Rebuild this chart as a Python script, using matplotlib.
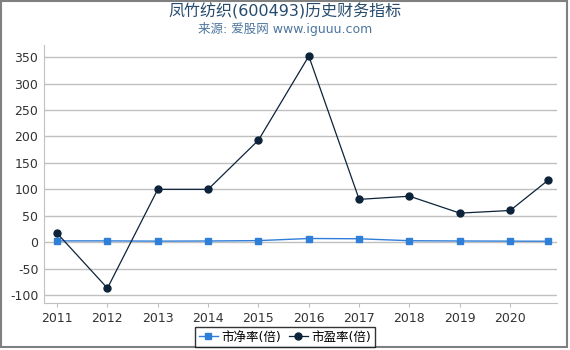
import matplotlib.pyplot as plt
from matplotlib.patches import Rectangle

plt.rcParams['font.family'] = ['DejaVu Sans', 'Noto Sans CJK SC']
plt.rcParams['axes.unicode_minus'] = False

years = [2011, 2012, 2013, 2014, 2015, 2016, 2017, 2018, 2019, 2020, 2020.75]
pb = [2.5, 2.5, 2.0, 2.3, 3.0, 7.0, 6.5, 2.8, 2.3, 2.0, 1.8]
pe = [17, -87, 100, 100, 193, 352, 81, 87, 55, 60, 117]
xticks = [2011, 2012, 2013, 2014, 2015, 2016, 2017, 2018, 2019, 2020]
yticks = [-100, -50, 0, 50, 100, 150, 200, 250, 300, 350]

fig = plt.figure(figsize=(5.7, 3.5), dpi=100)
ax = fig.add_axes([44 / 570, 1 - 303 / 350, (557 - 44) / 570, (303 - 45) / 350])

ax.plot(years, pb, color='#2f7ed8', marker='s', markersize=5, linewidth=1, label='市净率(倍)')
ax.plot(years, pe, color='#0d233a', marker='o', markersize=5, linewidth=0.9, label='市盈率(倍)')

ax.set_xlim(2010.74, 2020.93)
ax.set_ylim(-115, 373)
ax.set_xticks(xticks)
ax.set_xticklabels([str(y) for y in xticks])
ax.set_yticks(yticks)
ax.grid(axis='y', color='#c0c0c0', linewidth=1)
ax.set_axisbelow(True)
for s in ['top', 'right']:
    ax.spines[s].set_visible(False)
for s in ['left', 'bottom']:
    ax.spines[s].set_color('#c0c0c0')
ax.tick_params(axis='y', length=0, labelsize=9, colors='#333333', pad=4)
ax.tick_params(axis='x', length=3, color='#c0c0c0', labelsize=9, colors='#333333')

fig.text(0.5, 0.968, '凤竹纺织(600493)历史财务指标', ha='center', va='center', fontsize=11.5, color='#274b6d')
fig.text(0.5, 0.918, '来源: 爱股网 www.iguuu.com', ha='center', va='center', fontsize=9, color='#4d759e')

leg = fig.legend(loc='center', bbox_to_anchor=(0.5, 1 - 337 / 350), ncol=2, fontsize=9,
                 frameon=True, fancybox=False, edgecolor='black', handlelength=1.5,
                 columnspacing=0.6, handletextpad=0.3, borderpad=0.3)
leg.get_frame().set_linewidth(1)

fig.patches.append(Rectangle((1 / 570, 3 / 350), 566 / 570, 346 / 350, transform=fig.transFigure,
                             fill=False, edgecolor='#808080', linewidth=1.5))

fig.savefig('out.png', dpi=100)
